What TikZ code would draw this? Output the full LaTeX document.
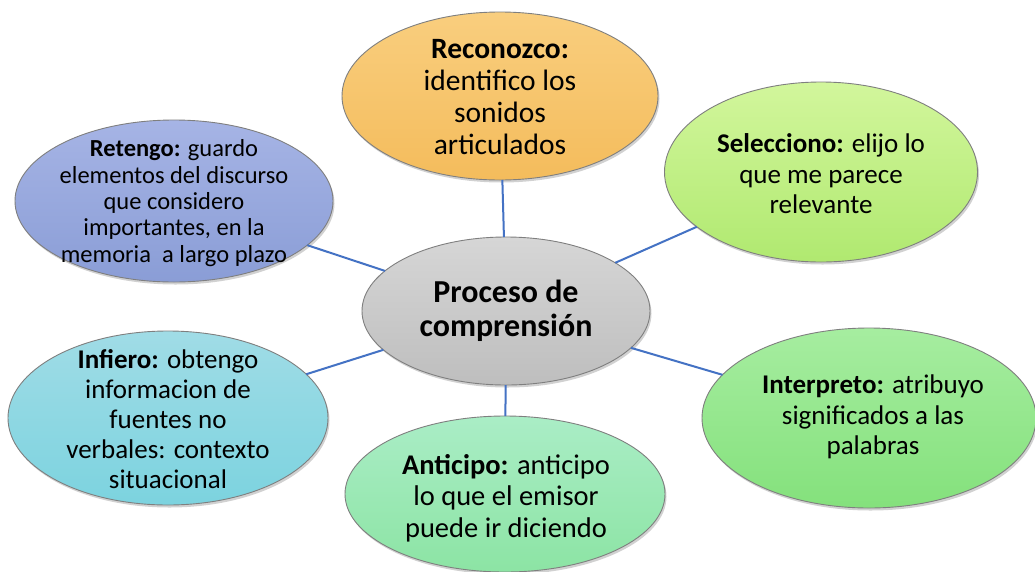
\documentclass[tikz,border=0pt]{standalone}
\usepackage{fontspec}
\setmainfont{Carlito}
\usetikzlibrary{shapes.geometric,shadows}
\definecolor{conncol}{HTML}{4472C4}
\definecolor{edgecol}{HTML}{7F7F7F}
\tikzset{
  bub/.style={ellipse, draw=edgecol, line width=0.9pt, inner sep=0pt, outer sep=0pt,
    drop shadow={shadow xshift=1.5pt, shadow yshift=-2.5pt, opacity=0.18, fill=black}},
  txt/.style={align=center, inner sep=0pt, text=black},
  conn/.style={draw=conncol, line width=2pt}
}
\begin{document}
\begin{tikzpicture}[x=1pt,y=-1pt]
\useasboundingbox[fill=white] (0,0) rectangle (1035,571);
% ellipses
\node[bub, minimum width=316pt, minimum height=168pt, top color={rgb,255:red,249;green,206;blue,126}, bottom color={rgb,255:red,244;green,188;blue,92}] (rec) at (500,96) {};
\node[bub, minimum width=288pt, minimum height=148pt, top color={rgb,255:red,214;green,214;blue,214}, bottom color={rgb,255:red,190;green,190;blue,190}] (cen) at (506,311) {};
\node[bub, minimum width=318pt, minimum height=162pt, top color={rgb,255:red,166;green,180;blue,229}, bottom color={rgb,255:red,138;green,157;blue,214}] (ret) at (174,201) {};
\node[bub, minimum width=313pt, minimum height=180pt, top color={rgb,255:red,210;green,246;blue,156}, bottom color={rgb,255:red,176;green,233;blue,112}] (sel) at (821,172) {};
\node[bub, minimum width=320pt, minimum height=174pt, top color={rgb,255:red,160;green,220;blue,230}, bottom color={rgb,255:red,124;green,211;blue,223}] (inf) at (168,418) {};
\node[bub, minimum width=334pt, minimum height=180pt, top color={rgb,255:red,166;green,237;blue,160}, bottom color={rgb,255:red,132;green,225;blue,124}] (int) at (869,418) {};
\node[bub, minimum width=320pt, minimum height=156pt, top color={rgb,255:red,170;green,237;blue,198}, bottom color={rgb,255:red,140;green,228;blue,164}] (ant) at (505,494) {};
% connectors
\draw[conn] (rec) -- (cen);
\draw[conn] (ret) -- (cen);
\draw[conn] (sel) -- (cen);
\draw[conn] (inf) -- (cen);
\draw[conn] (int) -- (cen);
\draw[conn] (ant) -- (cen);
% texts
\node[txt, font=\fontsize{29.5}{32}\selectfont] (rec-t) at (500,97) {\textbf{Reconozco:}\\identifico los\\sonidos\\articulados};
\node[txt, font=\fontsize{32}{34}\selectfont\bfseries] (cen-t) at (506,311) {Proceso de\\comprensión};
\node[txt, font=\fontsize{24.5}{26.3}\selectfont] (ret-t) at (174,203) {\textbf{Retengo:} guardo\\elementos del discurso\\que considero\\importantes, en la\\memoria\ \ a largo plazo};
\node[txt, font=\fontsize{27}{30.5}\selectfont] (sel-t) at (821,174) {\textbf{Selecciono:} elijo lo\\que me parece\\relevante};
\node[txt, font=\fontsize{27}{30}\selectfont] (inf-t) at (168,419) {\textbf{Infiero:} obtengo\\informacion de\\fuentes no\\verbales: contexto\\situacional};
\node[txt, font=\fontsize{27}{30.5}\selectfont] (int-t) at (873,417) {\textbf{Interpreto:} atribuyo\\significados a las\\palabras};
\node[txt, font=\fontsize{28.5}{31.5}\selectfont] (ant-t) at (506,498) {\textbf{Anticipo:} anticipo\\lo que el emisor\\puede ir diciendo};
\end{tikzpicture}
\end{document}
